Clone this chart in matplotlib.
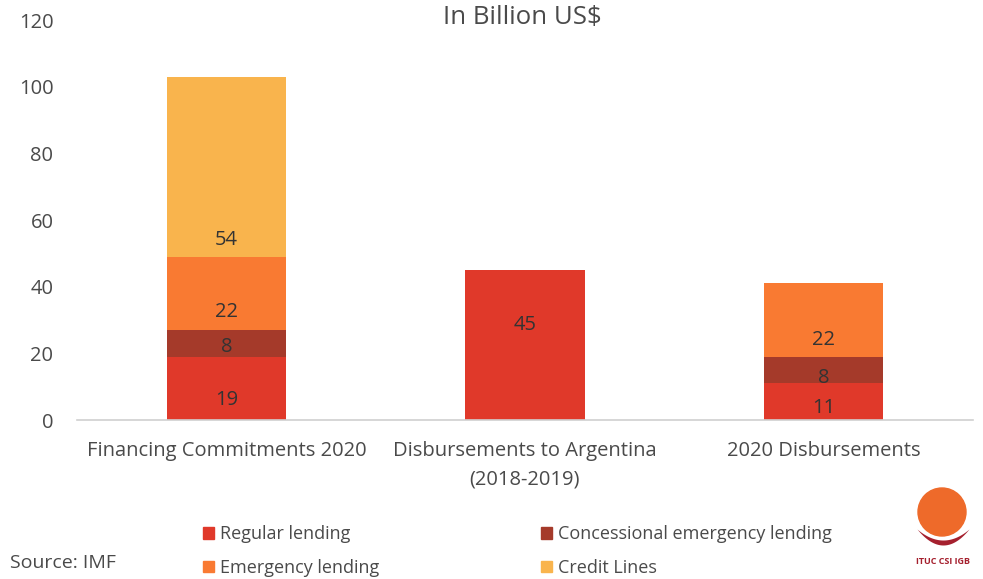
import matplotlib.pyplot as plt
from matplotlib.patches import Circle, Patch
import numpy as np

plt.rcParams['font.family'] = ['Open Sans', 'DejaVu Sans']

categories = ["Financing Commitments 2020", "Disbursements to Argentina\n(2018-2019)", "2020 Disbursements"]
series_names = ["Regular lending", "Concessional emergency lending", "Emergency lending", "Credit Lines"]
regular = [19, 45, 11]
concessional = [8, 0, 8]
emergency = [22, 0, 22]
credit_lines = [54, 0, 0]
y_ticks = [0, 20, 40, 60, 80, 100, 120]

colors = ["#E0392A", "#A53A2A", "#F97A32", "#F9B44D"]
text_grey = "#4a4a4a"
# vertical shift of each value label from its segment centre (data units)
label_nudge = [[-3.5, 6, -2], [-1, 0, -2.4], [-5.6, 0, -6], [-22, 0, 0]]

fig = plt.figure(figsize=(9.83, 5.79), dpi=100)
ax = fig.add_axes([77 / 983, 159 / 579, 896 / 983, 400 / 579])

x = np.arange(len(categories))
bottom = np.zeros(len(categories))
series = [regular, concessional, emergency, credit_lines]
for name, vals, color, nudge in zip(series_names, series, colors, label_nudge):
    vals = np.array(vals, dtype=float)
    ax.bar(x, vals, width=0.4, bottom=bottom, color=color, label=name)
    for xi, b, v, dy in zip(x, bottom, vals, nudge):
        if v > 0:
            ax.text(xi, b + v / 2 + dy, f"{v:g}", ha="center", va="center",
                    color="#333333", fontsize=14.5)
    bottom += vals

ax.set_xlim(-0.5, len(categories) - 0.5)
ax.set_ylim(0, 120)
ax.set_yticks(y_ticks)
ax.set_xticks(x)
ax.set_xticklabels(categories, fontsize=14.5, color=text_grey, linespacing=1.55)
ax.tick_params(axis="y", labelsize=14.5, labelcolor=text_grey, length=0, pad=17)
ax.tick_params(axis="x", length=0, pad=15)
for side in ["top", "right", "left"]:
    ax.spines[side].set_visible(False)
ax.spines["bottom"].set_color("#d0d0d0")
ax.spines["bottom"].set_linewidth(1.2)

fig.text(522 / 983, 1 - 17 / 579, "In Billion US$", ha="center", va="center",
         fontsize=18.5, color=text_grey)

# legend: two columns below the plot
handles = [Patch(color=colors[i]) for i in [0, 2, 1, 3]]
names = [series_names[i] for i in [0, 2, 1, 3]]
fig.legend(handles, names, ncol=2, loc="center left", bbox_to_anchor=(187 / 983, 1 - 551 / 579),
           frameon=False, fontsize=13, labelcolor=text_grey, handlelength=0.6, handleheight=0.6,
           handletextpad=0.3, columnspacing=9.0, labelspacing=0.85)

fig.text(10 / 983, 1 - 563 / 579, "Source: IMF", ha="left", va="center", fontsize=14, color=text_grey)

# ITUC logo: orange disc over a dark red crescent
logo = fig.add_axes([905 / 983, 0, 75 / 983, 100 / 579])
logo.set_xlim(0, 75)
logo.set_ylim(0, 100)
logo.set_aspect("equal")
logo.axis("off")
logo.add_patch(Circle((37, 67), 24, color="#EE6A2A"))
t = np.linspace(-1, 1, 60)
arc_x = 38 + 26 * t
logo.fill_between(arc_x, 50 - 16 * (1 - t ** 2), 50 - 11 * (1 - t ** 2), color="#A5202E", lw=0)
logo.text(38, 18, "ITUC CSI IGB", ha="center", va="center", fontsize=6.5, fontweight="bold",
          color="#A5202E")

fig.savefig("out.png", dpi=100)
